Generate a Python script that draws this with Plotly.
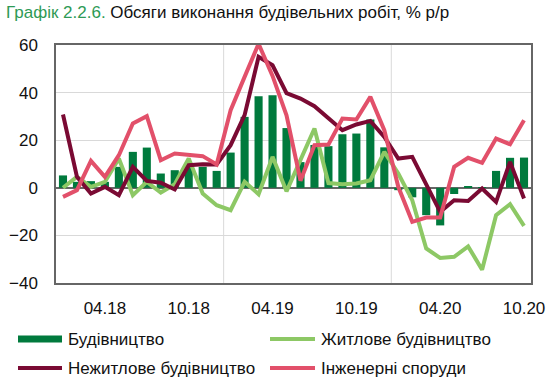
import plotly.graph_objects as go

months = [f"{m:02d}.{y}" for y in (18, 19, 20) for m in range(1, 13)][:34]

construction = [5.2, 2.5, 2.8, 2.5, 8.8, 15.1, 16.9, 6.0, 7.4, 10.0, 8.8, 7.1,
                14.8, 29.8, 38.5, 38.9, 25.1, 10.8, 18.0, 17.5, 22.5, 22.8, 28.7, 17.0,
                -1.0, -4.0, -11.5, -15.8, -2.6, 0.4, 0.2, 7.1, 12.6, 12.7]

residential = [0.0, 4.6, 0.4, 2.5, 12.3, -3.1, 2.5, -2.0, 1.5, 12.3, -2.4, -7.3,
               -9.4, 2.5, -2.7, 13.0, -1.5, 12.0, 24.9, 2.0, 1.5, 1.8, 3.2, 15.1,
               6.0, -5.2, -25.5, -29.5, -29.0, -24.6, -34.4, -11.5, -6.9, -16.0]

nonresidential = [30.8, 4.6, -2.4, 0.4, -3.1, 8.8, 2.9, 2.1, -0.7, 9.5, 9.9, 9.8,
                  17.9, 30.5, 55.0, 51.5, 39.8, 37.5, 34.3, 29.0, 24.2, 26.6, 28.1, 21.4,
                  12.3, 13.0, 1.8, -10.1, -5.2, -5.5, -0.3, -5.9, 10.9, -4.5]

engineering = [-3.8, -1.0, 11.3, 4.6, 13.7, 27.0, 30.1, 11.6, 14.4, 13.7, 13.3, 9.8,
               32.6, 46.6, 60.5, 47.0, 30.5, 3.0, 17.9, 18.2, 29.1, 28.7, 38.2, 24.2,
               0.4, -14.3, -12.5, -12.5, 8.8, 12.6, 10.5, 20.7, 18.3, 28.4]

tick_labels = ["04.18", "10.18", "04.19", "10.19", "04.20", "10.20"]

names = ["Будівництво", "Житлове будівництво", "Нежитлове будівництво", "Інженерні споруди"]
title_prefix = "Графік 2.2.6."
title_rest = "Обсяги виконання будівельних робіт, % р/р"

C_BAR = "#007A3D"
C_RES = "#8DC865"
C_NON = "#7A0A33"
C_ENG = "#E2506A"
C_TXT = "#111111"
FONT = "Liberation Sans, Arial, sans-serif"
FS = 17

W, H = 550, 391
ML, MR, MT, MB = 56, 19, 45, 108
PW, PH = W - ML - MR, H - MT - MB

fig = go.Figure()
fig.add_trace(go.Bar(x=months, y=construction, marker=dict(color=C_BAR, line=dict(width=0)),
                     name=names[0], showlegend=False))
fig.add_trace(go.Scatter(x=months, y=residential, mode="lines", line=dict(color=C_RES, width=4),
                         name=names[1], showlegend=False))
fig.add_trace(go.Scatter(x=months, y=nonresidential, mode="lines", line=dict(color=C_NON, width=4),
                         name=names[2], showlegend=False))
fig.add_trace(go.Scatter(x=months, y=engineering, mode="lines", line=dict(color=C_ENG, width=4),
                         name=names[3], showlegend=False))

# year boundary gridlines
for k in range(1, len(months)):
    if months[k].startswith("01."):
        fig.add_shape(type="line", xref="x", yref="paper", x0=k - 0.5, x1=k - 0.5, y0=0, y1=1,
                      line=dict(color="#D9D9D9", width=1), layer="below")

# legend (drawn as keys + labels below the plot)
def px_x(p):
    return (p - ML) / PW

def px_y(p):
    return (H - MB - p) / PH

legend_items = [
    (names[0], C_BAR, 7, 18, 62, 339),
    (names[1], C_RES, 4, 270, 315, 339),
    (names[2], C_NON, 4, 18, 62, 368),
    (names[3], C_ENG, 4, 270, 315, 368),
]
for label, col, lw, x0, x1, yc in legend_items:
    fig.add_shape(type="line", xref="paper", yref="paper",
                  x0=px_x(x0), x1=px_x(x1), y0=px_y(yc), y1=px_y(yc),
                  line=dict(color=col, width=lw))
    fig.add_annotation(xref="paper", yref="paper", x=px_x(x1 + 4), y=px_y(yc),
                       xanchor="left", yanchor="middle", showarrow=False, text=label,
                       font=dict(family=FONT, size=FS, color=C_TXT))

fig.update_layout(
    width=W, height=H,
    margin=dict(l=ML, r=MR, t=MT, b=MB, autoexpand=False),
    paper_bgcolor="white", plot_bgcolor="white",
    bargap=0.42,
    showlegend=False,
    font=dict(family=FONT, size=FS, color=C_TXT),
    title=dict(text=f"<span style='color:#2E9A55'>{title_prefix}</span> {title_rest}",
               x=6 / W, xref="container", xanchor="left",
               y=1 - 12 / H, yref="container", yanchor="middle",
               font=dict(family=FONT, size=FS, color=C_TXT)),
    xaxis=dict(type="category", range=[-0.5, len(months) - 0.5],
               tickmode="array", tickvals=[m for m in months if m in tick_labels],
               ticktext=[m for m in months if m in tick_labels],
               showgrid=False, ticks="", showline=True, mirror=True,
               linecolor="#666666", linewidth=1.5, ticklabelstandoff=9,
               tickfont=dict(family=FONT, size=FS, color=C_TXT)),
    yaxis=dict(range=[-40, 60], dtick=20, tick0=0, showgrid=True, gridcolor="#D9D9D9",
               gridwidth=1, zeroline=True, zerolinecolor="#666666", zerolinewidth=1.5,
               showline=True, mirror=True, linecolor="#666666", linewidth=1.5,
               ticks="", ticklabelstandoff=13,
               tickfont=dict(family=FONT, size=FS, color=C_TXT)),
)

fig.write_html("out.html",
               config={"displayModeBar": False},
               post_script="document.body.style.margin='0';document.body.style.overflow='hidden';")
